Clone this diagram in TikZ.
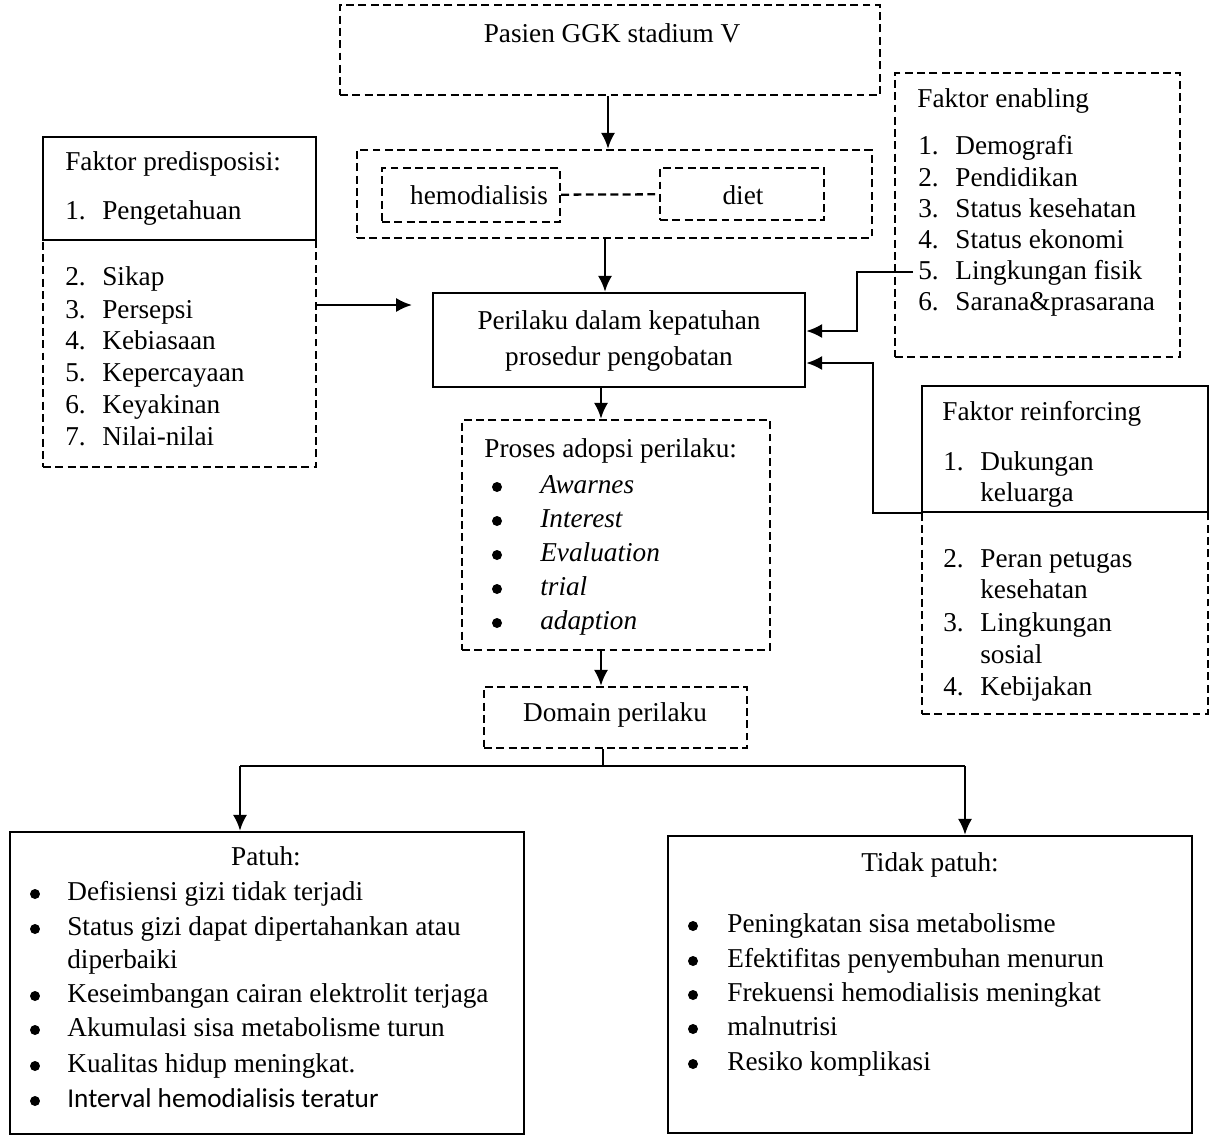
\documentclass[tikz,border=0pt]{standalone}
\usepackage{fontspec}
\setmainfont{Liberation Serif}
\newfontfamily\calibrifont{Carlito}
\usetikzlibrary{arrows.meta,fit}

\begin{document}
\begin{tikzpicture}[x=0.02cm, y=-0.02cm, font=\fontsize{15.5}{18}\selectfont,
        putus/.style={draw, line width=1.4pt, dash pattern=on 4.5pt off 2.5pt, inner sep=0pt},
        penuh/.style={draw, line width=1.4pt, inner sep=0pt},
        panah/.style={line width=1.3pt, arrows={-Latex[length=9pt,width=8pt]}},
        garis/.style={line width=1.3pt},
        teks/.style={anchor=base west, inner sep=0pt},
        tengah/.style={anchor=base, inner sep=0pt},
        titik/.style={circle, fill, inner sep=0pt, minimum size=0.2cm}]

    \useasboundingbox (0,0) rectangle (1213,1136);

    % --- Kotak-kotak utama ---
    \node[putus, fit={(340,5) (880,95)}] (pasien) {};
    \node[tengah] (tpasien) at (612,42) {Pasien GGK stadium V};

    \node[putus, fit={(357,150) (872,238)}] (terapi) {};
    \node[putus, fit={(382,168) (560,222)}] (hd) {};
    \node[putus, fit={(660,168) (824,220)}] (diet) {};
    \node[tengah] (thd) at (479,204) {hemodialisis};
    \node[tengah] (tdiet) at (743,204) {diet};
    \draw[garis, dash pattern=on 4.5pt off 2.5pt] (hd) -- (diet);

    \node[penuh, fit={(433,293) (805,387)}] (perilaku) {};
    \node[tengah] (tper1) at (619,329) {Perilaku dalam kepatuhan};
    \node[tengah] (tper2) at (619,365) {prosedur pengobatan};

    % --- Faktor predisposisi ---
    \node[penuh, fit={(43,137) (316,240)}] (pred1) {};
    \node[putus, fit={(43,240) (316,467)}] (pred2) {};
    \node[teks] (tpred) at (65,170) {Faktor predisposisi:};
    \node[teks] (npred1) at (65,219) {1.};
    \node[teks] (ipred1) at (102,219) {Pengetahuan};
    \foreach \isi/\y [count=\i from 2] in {Sikap/285, Persepsi/318, Kebiasaan/349,
            Kepercayaan/381, Keyakinan/413, Nilai-nilai/445} {
        \node[teks] (npred\i) at (65,\y) {\i.};
        \node[teks] (ipred\i) at (102,\y) {\isi};
    }

    % --- Faktor enabling ---
    \node[putus, fit={(895,73) (1180,357)}] (enab) {};
    \node[teks] (tenab) at (917,107) {Faktor enabling};
    \foreach \isi/\y [count=\i] in {Demografi/154, Pendidikan/186, Status kesehatan/217,
            Status ekonomi/248, Lingkungan fisik/279, Sarana\&prasarana/310} {
        \node[teks] (nenab\i) at (918,\y) {\i.};
        \node[teks] (ienab\i) at (955,\y) {\isi};
    }

    % --- Faktor reinforcing ---
    \node[putus, fit={(922,512) (1208,714)}] (reinf2) {};
    \node[penuh, fit={(922,386) (1208,512)}] (reinf1) {};
    \node[teks] (treinf) at (942,420) {Faktor reinforcing};
    \node[teks] (nre1) at (943,470) {1.};
    \node[teks] (ire1) at (980,470) {Dukungan};
    \node[teks] (ire1b) at (980,501) {keluarga};
    \node[teks] (nre2) at (943,567) {2.};
    \node[teks] (ire2) at (980,567) {Peran petugas};
    \node[teks] (ire2b) at (980,598) {kesehatan};
    \node[teks] (nre3) at (943,631) {3.};
    \node[teks] (ire3) at (980,631) {Lingkungan};
    \node[teks] (ire3b) at (980,663) {sosial};
    \node[teks] (nre4) at (943,695) {4.};
    \node[teks] (ire4) at (980,695) {Kebijakan};

    % --- Proses adopsi dan domain ---
    \node[putus, fit={(462,420) (770,650)}] (proses) {};
    \node[teks] (tproses) at (484,457) {Proses adopsi perilaku:};
    \foreach \isi/\y [count=\i] in {Awarnes/493, Interest/527, Evaluation/561,
            trial/595, adaption/629} {
        \node[titik] (bproses\i) at (497,\y-6) {};
        \node[teks] (iproses\i) at (540,\y) {\itshape \isi};
    }

    \node[putus, fit={(484,687) (747,748)}] (domain) {};
    \node[tengah] (tdomain) at (615,721) {Domain perilaku};

    % --- Hasil: patuh dan tidak patuh ---
    \node[penuh, fit={(10,832) (524,1134)}] (patuh) {};
    \node[tengah] (tpatuh) at (266,865) {Patuh:};
    \foreach \isi/\y [count=\i] in {Defisiensi gizi tidak terjadi/900,
            Status gizi dapat dipertahankan atau/935,
            Keseimbangan cairan elektrolit terjaga/1002,
            Akumulasi sisa metabolisme turun/1036,
            Kualitas hidup meningkat./1072} {
        \node[titik] (bpatuh\i) at (35,\y-6) {};
        \node[teks] (ipatuh\i) at (67,\y) {\isi};
    }
    \node[teks] (ipatuh2b) at (67,968) {diperbaiki};
    \node[titik] (bpatuh6) at (35,1101) {};
    \node[teks] (ipatuh6) at (67,1107) {\calibrifont Interval hemodialisis teratur};

    \node[penuh, fit={(668,836) (1192,1133)}] (tidak) {};
    \node[tengah] (ttidak) at (930,871) {Tidak patuh:};
    \foreach \isi/\y [count=\i] in {Peningkatan sisa metabolisme/932,
            Efektifitas penyembuhan menurun/967, Frekuensi hemodialisis meningkat/1001,
            malnutrisi/1035, Resiko komplikasi/1070} {
        \node[titik] (btidak\i) at (693,\y-6) {};
        \node[teks] (itidak\i) at (727,\y) {\isi};
    }

    % --- Panah-panah ---
    \coordinate (kolom1) at (608,0);
    \coordinate (kolom2) at (605,0);
    \coordinate (kolom) at (601,0);
    \draw[panah] (pasien.south -| kolom1) -- (terapi.north -| kolom1);
    \draw[panah] (terapi.south -| kolom2) -- (perilaku.north -| kolom2);
    \draw[panah] (perilaku.south -| kolom) -- (proses.north -| kolom);
    \draw[panah] (proses.south -| kolom) -- (domain.north -| kolom);

    % predisposisi ke perilaku
    \coordinate (pkiri) at (316,305);
    \coordinate (pujung) at (412,305);
    \draw[panah] (pkiri) -- (pujung);

    % enabling ke perilaku
    \coordinate (e5) at (913,272);
    \coordinate (beloke) at (857,331);
    \draw[panah] (e5) -| (beloke) -- (beloke -| perilaku.east);

    % reinforcing ke perilaku
    \coordinate (belokr) at (873,363);
    \draw[panah] (reinf1.south west) -| (belokr) -- (belokr -| perilaku.east);

    % domain bercabang ke patuh dan tidak patuh
    \coordinate (cabang) at (603,766);
    \coordinate (kiri) at (240,766);
    \coordinate (kanan) at (965,766);
    \draw[garis] (domain.south -| cabang) -- (cabang);
    \draw[garis] (kiri) -- (kanan);
    \draw[panah] (kiri) -- (kiri |- patuh.north);
    \draw[panah] (kanan) -- (kanan |- tidak.north);

\end{tikzpicture}
\end{document}
